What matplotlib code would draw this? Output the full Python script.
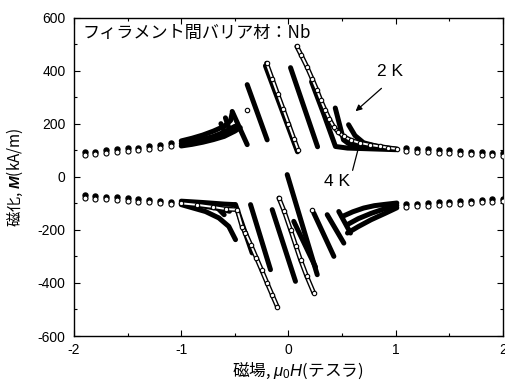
import matplotlib
matplotlib.use("Agg")
import matplotlib.pyplot as plt
from matplotlib.ticker import MultipleLocator

plt.rcParams['font.family'] = ['Liberation Sans', 'Noto Sans CJK JP', 'DejaVu Sans']
plt.rcParams['mathtext.fontset'] = 'custom'
plt.rcParams['mathtext.it'] = 'Liberation Sans:italic'
plt.rcParams['mathtext.bfit'] = 'Liberation Sans:bold:italic'
plt.rcParams['mathtext.rm'] = 'Liberation Sans'

# ---------------- data (field in T, magnetization in kA/m) ----------------
# outer reversible points (both temperatures)
dots_h_left = [-1.9, -1.8, -1.7, -1.6, -1.5, -1.4, -1.3, -1.2, -1.1]
dots_m_upper_left = [87, 90, 94, 98, 102, 105, 109, 115, 121]
dots_m_lower_left = [-74, -77, -80, -83, -86, -89, -92, -95, -99]
dots_h_right = [1.1, 1.2, 1.3, 1.4, 1.5, 1.6, 1.7, 1.8, 1.9, 2.0]
dots_m_upper_right = [102, 100, 98, 96, 94, 92, 90, 88, 86, 83]
dots_m_lower_right = [-109, -106, -104, -101, -99, -97, -95, -92, -90, -87]

# 4 K (filled) branches, upper half
band_top_h = [-1.00, -0.90, -0.80, -0.70, -0.60, -0.54, -0.525]
band_top_m = [135, 145, 157, 172, 190, 212, 240]
band_mid_h = [-1.00, -0.85, -0.70, -0.60, -0.50]
band_mid_m = [125, 135, 152, 168, 190]
band_bot_h = [-1.00, -0.90, -0.80, -0.70, -0.60, -0.50, -0.45]
band_bot_m = [116, 122, 130, 140, 152, 172, 185]
tooth1_h = [-0.588, -0.541]
tooth1_m = [222, 166]
tooth2_h = [-0.63, -0.60]
tooth2_m = [200, 172]
u2_h = [-0.525, -0.385]
u2_m = [246, 121]
u3_h = [-0.385, -0.199]
u3_m = [347, 139]
u4_h = [-0.215, 0.084]
u4_m = [418, 94]
u5_h = [0.019, 0.271]
u5_m = [411, 113]
u7_h = [0.215, 0.33, 0.438, 0.55, 0.70, 0.85, 1.00]
u7_m = [358, 235, 114, 108, 106, 104, 102]
u8_h = [0.436, 0.513, 0.56, 0.70, 0.85]
u8_m = [259, 139, 125, 113, 108]
u9_h = [0.56, 0.62, 0.70, 0.85, 1.00]
u9_m = [196, 155, 128, 112, 104]

# 4 K (filled) branches, lower half
lband_top_h = [0.50, 0.60, 0.70, 0.80, 0.90, 1.01]
lband_top_m = [-150, -132, -118, -109, -104, -99]
lband_mid_h = [0.55, 0.65, 0.77, 0.90, 1.01]
lband_mid_m = [-180, -158, -138, -120, -108]
lband_bot_h = [0.55, 0.65, 0.77, 0.90, 1.01]
lband_bot_m = [-212, -188, -162, -138, -117]
l1_h = [0.236, 0.423]
l1_m = [-137, -300]
l2_h = [0.361, 0.516]
l2_m = [-143, -250]
l3_h = [0.469, 0.578]
l3_m = [-131, -212]
l4_h = [-0.012, 0.268]
l4_m = [8, -369]
l5_h = [0.049, 0.252]
l5_m = [-168, -340]
l6_h = [-0.152, 0.065]
l6_m = [-124, -394]
l7_h = [-0.354, -0.168]
l7_m = [-105, -350]
l8_h = [-0.494, -0.339]
l8_m = [-105, -287]
lcurve_h = [-1.0, -0.774, -0.65, -0.557, -0.494]
lcurve_m = [-105, -131, -155, -187, -237]
lband2_top_h = [-1.0, -0.8, -0.6, -0.5]
lband2_top_m = [-92, -97, -103, -105]
lband2_mid_h = [-1.0, -0.8, -0.65, -0.55]
lband2_mid_m = [-100, -110, -120, -130]
ltooth_h = [-0.69, -0.60]
ltooth_m = [-106, -143]

# 2 K (open circles) branches
o_u6_h = [0.077, 0.12, 0.171, 0.22, 0.264, 0.30, 0.342, 0.38, 0.420, 0.46, 0.513, 0.58, 0.669, 0.76, 0.855, 0.93, 1.010]
o_u6_m = [491, 457, 415, 370, 328, 290, 251, 218, 189, 170, 152, 138, 127, 120, 114, 109, 105]
o_u4_h = [-0.205, -0.15, -0.10, -0.05, 0.0, 0.05, 0.09]
o_u4_m = [428, 367, 311, 256, 200, 144, 100]
o_l6_h = [-1.0, -0.85, -0.70, -0.58, -0.479, -0.432, -0.401, -0.35, -0.30, -0.25, -0.20, -0.15, -0.105]
o_l6_m = [-100, -106, -114, -122, -124, -189, -212, -258, -305, -352, -400, -447, -489]
o_l4_h = [-0.09, -0.04, 0.019, 0.07, 0.112, 0.17, 0.236]
o_l4_m = [-80, -130, -200, -262, -313, -375, -438]
o_single_h = [-0.385, 0.221]
o_single_m = [252, -124]

x_ticks = [-2, -1, 0, 1, 2]
y_ticks = [-600, -400, -200, 0, 200, 400, 600]

# ---------------- figure ----------------
fig = plt.figure(figsize=(5.06, 3.87), dpi=100)
ax = fig.add_axes([74 / 506, 51 / 387, 429 / 506, 318.5 / 387])

filled = [
    (band_top_h, band_top_m), (band_mid_h, band_mid_m), (band_bot_h, band_bot_m),
    (tooth1_h, tooth1_m), (tooth2_h, tooth2_m),
    (u2_h, u2_m), (u3_h, u3_m), (u4_h, u4_m), (u5_h, u5_m),
    (u7_h, u7_m), (u8_h, u8_m), (u9_h, u9_m),
    (lband_top_h, lband_top_m), (lband_mid_h, lband_mid_m), (lband_bot_h, lband_bot_m),
    (l1_h, l1_m), (l2_h, l2_m), (l3_h, l3_m), (l4_h, l4_m), (l5_h, l5_m),
    (l6_h, l6_m), (l7_h, l7_m), (l8_h, l8_m),
    (lcurve_h, lcurve_m), (lband2_top_h, lband2_top_m), (lband2_mid_h, lband2_mid_m),
    (ltooth_h, ltooth_m),
]
for h, m in filled:
    ax.plot(h, m, color='black', lw=3.6, solid_capstyle='round', solid_joinstyle='round', zorder=3)

opens = [(o_u6_h, o_u6_m), (o_u4_h, o_u4_m), (o_l6_h, o_l6_m), (o_l4_h, o_l4_m)]
for h, m in opens:
    ax.plot(h, m, color='black', lw=3.4, solid_capstyle='round', zorder=4)
    ax.plot(h, m, color='white', lw=1.4, solid_capstyle='round', zorder=5)
    ax.plot(h, m, ls='none', marker='o', ms=3.2, mfc='white', mec='black', mew=0.8, zorder=6)
ax.plot(o_single_h, o_single_m, ls='none', marker='o', ms=3.2, mfc='white', mec='black', mew=0.8, zorder=6)

# outer points: 4 K filled slightly above, 2 K open slightly below
for h, m in [(dots_h_left, dots_m_upper_left), (dots_h_right, dots_m_upper_right),
             (dots_h_left, dots_m_lower_left), (dots_h_right, dots_m_lower_right)]:
    ax.plot(h, [v + 5 for v in m], ls='none', marker='o', ms=3.6, color='black', zorder=3)
    ax.plot(h, [v - 5 for v in m], ls='none', marker='o', ms=3.6, mfc='white', mec='black', mew=0.8, zorder=4)

ax.set_xlim(-2, 2)
ax.set_ylim(-600, 600)
ax.set_xticks(x_ticks)
ax.set_yticks(y_ticks)
ax.set_xticklabels([str(v) for v in x_ticks])
ax.set_yticklabels([str(v) for v in y_ticks])
ax.xaxis.set_minor_locator(MultipleLocator(0.5))
ax.yaxis.set_minor_locator(MultipleLocator(100))
ax.tick_params(which='both', direction='in', top=True, right=True, labelsize=10, color='black')
ax.tick_params(which='major', length=4, width=0.8)
ax.tick_params(which='minor', length=2.5, width=0.8)
ax.tick_params(axis='y', pad=6)
ax.tick_params(axis='x', pad=5)
for s in ax.spines.values():
    s.set_linewidth(1.0)

ax.set_xlabel('磁場, $\\mathit{\\mu_0H}$(テスラ)', fontsize=12,
              family=['Noto Sans CJK JP', 'DejaVu Sans'])
ax.xaxis.set_label_coords(0.522, -0.075)
ax.set_ylabel('磁化, $\\mathbfit{M}$(kA/m)', fontsize=11, labelpad=9,
              family=['Noto Sans CJK JP', 'DejaVu Sans'])

ax.text(0.021, 0.951, 'フィラメント間バリア材：Nb', transform=ax.transAxes, ha='left', va='center',
        fontsize=12.3, family=['Noto Sans CJK JP', 'DejaVu Sans'])

ax.text(0.948, 397, '2 K', ha='center', va='center', fontsize=12.5)
ax.annotate('', xy=(0.606, 240), xytext=(0.886, 340),
            arrowprops=dict(arrowstyle='-|>', color='black', lw=0.9, mutation_scale=9))
ax.text(0.45, -18, '4 K', ha='center', va='center', fontsize=12.5)
ax.annotate('', xy=(0.662, 124), xytext=(0.591, 14),
            arrowprops=dict(arrowstyle='-', color='black', lw=0.9))

fig.savefig('out.png', dpi=100)
